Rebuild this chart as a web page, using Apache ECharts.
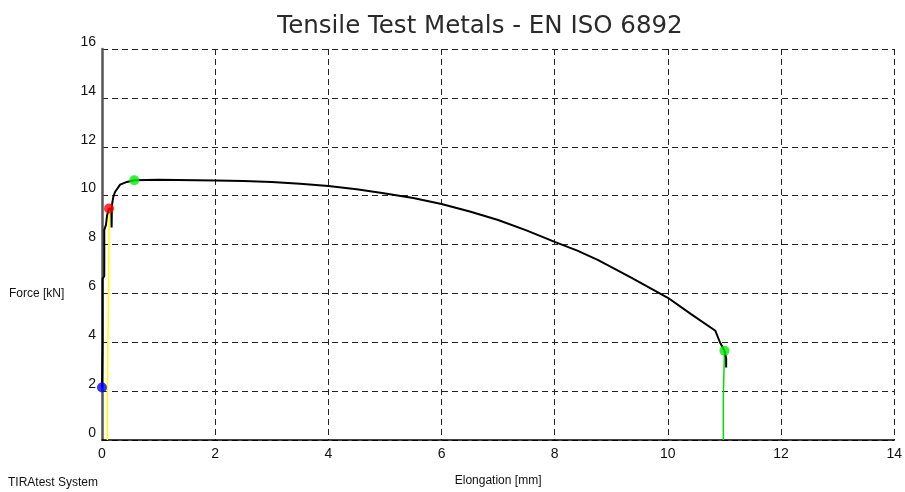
<!DOCTYPE html>
<html>
<head>
<meta charset="utf-8">
<script src="https://cdn.jsdelivr.net/npm/echarts@6/dist/echarts.min.js"></script>
<style>html,body{margin:0;padding:0;background:#fff}#c{width:905px;height:492px}</style>
</head>
<body>
<div id="c"></div>
<script>
const titleText = 'Tensile Test Metals - EN ISO 6892';
const xAxisName = 'Elongation [mm]';
const yAxisName = 'Force [kN]';
const footerText = 'TIRAtest System';

// Force-elongation curve (black)
const curveX = [0, 0.01, 0.01, 0.04, 0.04, 0.07, 0.09, 0.124, 0.165, 0.17, 0.175, 0.2, 0.23, 0.32, 0.44, 0.57, 1.0, 2.0, 2.5, 3.0, 3.5, 4.0, 4.5, 4.95, 5.5, 6.0, 6.5, 7.0, 7.5, 8.0, 8.4, 8.76, 9.36, 10.0, 10.41, 10.84, 10.92, 11.0, 11.03, 11.03];
const curveY = [2.15, 4.0, 6.6, 6.7, 8.6, 8.8, 9.2, 9.47, 9.45, 8.7, 9.6, 9.95, 10.15, 10.45, 10.56, 10.63, 10.65, 10.62, 10.6, 10.56, 10.49, 10.39, 10.26, 10.11, 9.9, 9.66, 9.35, 9.0, 8.58, 8.11, 7.75, 7.37, 6.63, 5.82, 5.15, 4.47, 4.0, 3.65, 3.35, 2.97];

// Yellow (elastic) line
const yellowX = [0.094, 0.094, 0.11, 0.13];
const yellowY = [0, 1.7, 1.75, 9.4];

// Green (fracture) line
const greenX = [10.98, 10.98, 11.0, 11.0];
const greenY = [0, 1.75, 1.8, 3.65];

// Marker points
const pointX = [0, 0.124, 0.57, 11.0];
const pointY = [2.15, 9.47, 10.63, 3.65];
const pointColors = ['#0000ff', '#ff0000', '#00ee00', '#00ee00'];

const xTicks = { min: 0, max: 14, interval: 2 };
const yTicks = { min: 0, max: 16, interval: 2 };

const zip = (a, b) => a.map((v, i) => [v, b[i]]);

const narrow = '"Liberation Sans Narrow", "Liberation Sans", sans-serif';
const chart = echarts.init(document.getElementById('c'), null, { renderer: 'canvas' });
chart.setOption({
  backgroundColor: '#ffffff',
  animation: false,
  title: {
    text: titleText,
    left: 475, top: 9, textAlign: 'center',
    textStyle: { fontFamily: '"DejaVu Sans"', fontSize: 24.5, fontWeight: 'normal', color: '#2a2a2a' }
  },
  graphic: [
    { type: 'text', left: 9, top: 288, style: { text: yAxisName, font: '12px ' + narrow, fill: '#111' } },
    { type: 'text', left: 8, top: 477, style: { text: footerText, font: '12px ' + narrow, fill: '#111' } }
  ],
  grid: { left: 102, right: 10, top: 49, bottom: 49 },
  xAxis: {
    type: 'value', min: xTicks.min, max: xTicks.max, interval: xTicks.interval,
    name: xAxisName, nameLocation: 'middle', nameGap: 35,
    nameTextStyle: { fontFamily: narrow, fontSize: 12, color: '#111' },
    axisLine: { show: true, lineStyle: { color: '#000', width: 1.5 } },
    axisTick: { show: false },
    axisLabel: { margin: 7, fontFamily: narrow, fontSize: 14, color: '#111' },
    splitLine: { show: true, lineStyle: { color: '#222', type: [6, 4], width: 1 } }
  },
  yAxis: {
    type: 'value', min: yTicks.min, max: yTicks.max, interval: yTicks.interval,
    axisLine: { show: true, lineStyle: { color: '#555', width: 2.5 } },
    axisTick: { show: false },
    axisLabel: { margin: 6, fontFamily: narrow, fontSize: 14, color: '#111', verticalAlign: 'bottom' },
    splitLine: { show: true, lineStyle: { color: '#222', type: [6, 4], width: 1 } }
  },
  series: [
    { type: 'line', data: zip(yellowX, yellowY), showSymbol: false, symbol: 'none',
      lineStyle: { color: '#ffff00', width: 1.5 }, z: 2 },
    { type: 'line', data: zip(greenX, greenY), showSymbol: false, symbol: 'none',
      lineStyle: { color: '#00e000', width: 1.5 }, z: 2 },
    { type: 'line', data: zip(curveX, curveY), showSymbol: false, symbol: 'none',
      lineStyle: { color: '#000', width: 2 }, z: 3 },
    { type: 'scatter', symbol: 'circle', symbolSize: 10, z: 4,
      data: pointX.map((x, i) => ({ value: [x, pointY[i]], itemStyle: { color: pointColors[i] } })) }
  ]
});
</script>
</body>
</html>
